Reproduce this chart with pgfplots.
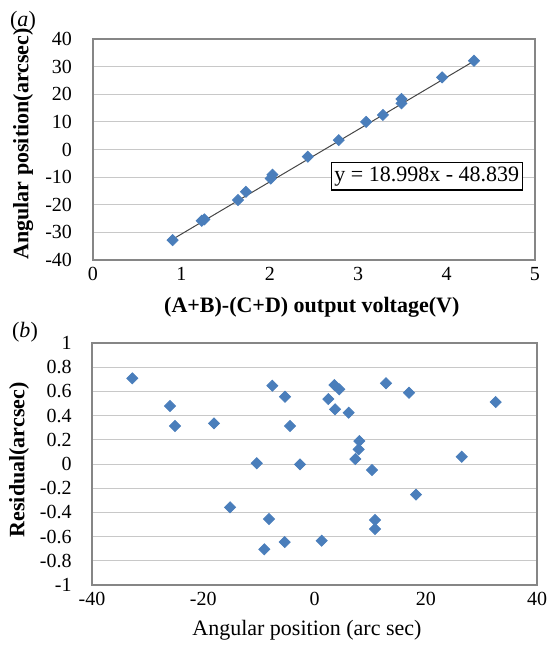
\documentclass[border=0pt]{standalone}
\usepackage{fontspec}
\setmainfont{Liberation Serif}
\usepackage{pgfplots}
\pgfplotsset{compat=1.18}

\definecolor{mk}{RGB}{74,126,187}
\definecolor{boxgray}{RGB}{134,134,134}
\definecolor{gridgray}{RGB}{200,200,200}
\definecolor{trend}{RGB}{70,70,70}

\pgfplotsset{
  excel/.style={
    scale only axis,
    axis line style={boxgray, line width=0.7pt},
    major tick length=0pt,
    ymajorgrids,
    grid style={gridgray, line width=0.5pt},
    tick label style={font=\fontsize{10}{12}\selectfont},
    /pgf/number format/assume math mode=true,
    label style={font=\fontsize{11}{13}\selectfont},
    clip=false,
  },
  dmark/.style={only marks, mark=square*, mark size=1.95pt,
    mark options={rotate=45, fill=mk, draw=mk}},
}

\begin{document}
\begin{tikzpicture}
\path[use as bounding box] (0,0) rectangle (275pt,-328.5pt);

% (a) calibration
\begin{axis}[excel,
  at={(46.5pt,-130pt)}, anchor=south west,
  width=221pt, height=110.5pt,
  xmin=0, xmax=5, xtick={0,1,2,3,4,5},
  ymin=-40, ymax=40, ytick={-40,-30,-20,-10,0,10,20,30,40},
  yticklabel style={xshift=-7pt},
  xlabel={\textbf{(A+B)-(C+D) output voltage(V)}},
  ylabel={\textbf{Angular position(arcsec)}},
  xlabel style={at={(axis description cs:0.495,0)}, anchor=center, yshift=-23.5pt},
  ylabel style={at={(axis description cs:-0.158,0.525)}, anchor=center},
]
\addplot[trend, line width=0.5pt] coordinates {(0.89,-32.7) (4.32,32.2)};
\addplot[dmark] coordinates {
  (0.90,-32.8) (1.23,-25.8) (1.26,-25.3) (1.64,-18.3) (1.73,-15.3)
  (2.01,-10.5) (2.03,-9.1) (2.43,-2.6) (2.78,3.4) (3.09,10.0)
  (3.28,12.5) (3.49,16.7) (3.49,18.3) (3.95,26.1) (4.31,32.1)
};
\node[draw=black, line width=0.6pt, fill=white, anchor=north west,
  inner xsep=1.5pt, inner ysep=2pt, font=\fontsize{11}{13}\selectfont]
  at (axis cs:2.69,-4.5) {y = 18.998x - 48.839};
\end{axis}

% (b) residuals
\begin{axis}[excel,
  at={(46pt,-292.5pt)}, anchor=south west,
  width=222.5pt, height=121pt,
  xmin=-40, xmax=40, xtick={-40,-20,0,20,40},
  ymin=-1, ymax=1, ytick={-1,-0.8,-0.6,-0.4,-0.2,0,0.2,0.4,0.6,0.8,1},
  yticklabel style={xshift=-6.7pt, /pgf/number format/fixed, /pgf/number format/precision=1},
  xlabel={Angular position (arc sec)},
  ylabel={\textbf{Residual(arcsec)}},
  xlabel style={at={(axis description cs:0.483,0)}, anchor=center, yshift=-22.5pt},
  ylabel style={at={(axis description cs:-0.164,0.517)}, anchor=center},
]
\addplot[dmark] coordinates {
  (-32.75,0.708) (-25.98,0.479) (-25.08,0.314) (-18.07,0.336) (-15.19,-0.358)
  (-10.39,0.006) (-9.02,-0.705) (-8.18,-0.455) (-7.58,0.647) (-5.30,0.556)
  (-5.36,-0.645) (-4.40,0.314) (-2.61,-0.003) (1.29,-0.634) (2.49,0.537)
  (3.57,0.653) (3.69,0.452) (4.46,0.617) (6.14,0.424) (8.06,0.190)
  (7.94,0.121) (7.34,0.041) (10.34,-0.050) (10.88,-0.463) (10.88,-0.537)
  (12.85,0.667) (16.99,0.589) (18.25,-0.253) (26.46,0.060) (32.57,0.512)
};
\end{axis}

\node[font=\fontsize{11}{13}\selectfont] at (11.5pt,-10.5pt) {(\textit{a})};
\node[font=\fontsize{11}{13}\selectfont] at (12.5pt,-166pt) {(\textit{b})};
\end{tikzpicture}
\end{document}
